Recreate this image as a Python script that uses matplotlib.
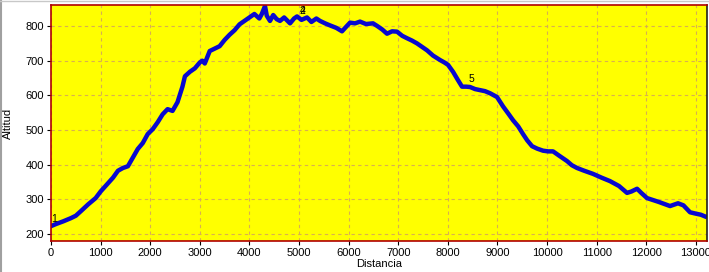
import matplotlib
matplotlib.use("Agg")
import matplotlib.pyplot as plt
from matplotlib.lines import Line2D

distancia = [0, 100, 250, 400, 500, 600, 750, 900, 1000, 1100, 1250, 1350, 1450, 1550,
             1650, 1750, 1850, 1950, 2050, 2150, 2250, 2350, 2450, 2550, 2650, 2700, 2800,
             2900, 3000, 3050, 3100, 3200, 3300, 3400, 3500, 3600, 3700, 3800, 3900, 4000,
             4100, 4200, 4250, 4314, 4350, 4415, 4480, 4550, 4617, 4700, 4819, 4900, 4960,
             5050, 5161, 5250, 5350, 5423, 5525, 5625, 5750, 5867, 5950, 6028, 6130, 6230,
             6350, 6492, 6580, 6680, 6774, 6876, 6976, 7080, 7177, 7280, 7379, 7480, 7581,
             7700, 7843, 7930, 8004, 8105, 8200, 8286, 8370, 8448, 8550, 8649, 8750, 8851,
             8992, 9113, 9215, 9315, 9420, 9516, 9600, 9698, 9800, 9919, 10020, 10121, 10250,
             10403, 10500, 10605, 10750, 10927, 11100, 11270, 11450, 11613, 11700, 11815,
             11900, 12016, 12250, 12480, 12641, 12750, 12883, 13000, 13100, 13185]
altitud = [222, 228, 236, 245, 252, 265, 285, 303, 322, 338, 362, 382, 390, 395,
           420, 445, 462, 488, 502, 522, 545, 560, 555, 580, 625, 655, 668,
           678, 695, 700, 692, 728, 735, 742, 760, 775, 788, 805, 815, 825,
           835, 822, 835, 858, 830, 815, 832, 820, 815, 825, 808, 822, 828,
           818, 825, 812, 822, 815, 808, 802, 795, 785, 798, 810, 808, 813,
           806, 808, 800, 790, 778, 785, 784, 772, 765, 758, 750, 740, 730,
           715, 702, 695, 688, 668, 645, 625, 625, 624, 618, 615, 612, 606,
           595, 568, 548, 528, 510, 488, 470, 453, 446, 440, 438, 438, 425,
           410, 398, 390, 382, 373, 362, 352, 338, 318, 322, 330,
           318, 303, 292, 280, 288, 282, 262, 258, 255, 250]

marker_labels = ["1", "2", "4", "5"]
marker_x = [0, 5000, 5020, 8427]
marker_y = [242, 845, 845, 648]

xticks = list(range(0, 13001, 1000))
yticks = [200, 300, 400, 500, 600, 700, 800]

plt.rcParams['font.family'] = ['Liberation Sans', 'DejaVu Sans']

fig = plt.figure(figsize=(7.09, 2.72), dpi=100, facecolor='white')
ax = fig.add_axes([51/709, 31/272, 656/709, 236/272])
ax.set_facecolor('#ffff00')

ax.plot(distancia, altitud, color='#0808d0', lw=3.2, solid_joinstyle='round')

for lab, x, y in zip(marker_labels, marker_x, marker_y):
    ax.text(x, y, lab, fontsize=7.5, color='black', ha='left', va='center')

ax.set_xlim(0, 13225)
ax.set_ylim(179, 861)
ax.set_xticks(xticks)
ax.set_yticks(yticks)
ax.tick_params(labelsize=8, length=3, width=0.8, pad=2, colors='black')
ax.grid(True, color='#d8b050', linestyle=(0, (3, 3)), lw=0.8)
ax.set_axisbelow(True)
for side in ['left', 'top', 'bottom']:
    ax.spines[side].set_color('#b00000')
    ax.spines[side].set_linewidth(1.2)
ax.spines['right'].set_color('#202020')
ax.spines['right'].set_linewidth(1.2)

ax.set_xlabel('Distancia', fontsize=8, labelpad=1)
ax.set_ylabel('Altitud', fontsize=8, labelpad=9)

# window-like border
fig.add_artist(Line2D([0.0015, 0.0015], [0, 1], transform=fig.transFigure, color='#a0a0a0', lw=1.5))
fig.add_artist(Line2D([0, 1], [0.998, 0.998], transform=fig.transFigure, color='#c8c8c8', lw=1))

fig.savefig('out.png', dpi=100, facecolor='white')
